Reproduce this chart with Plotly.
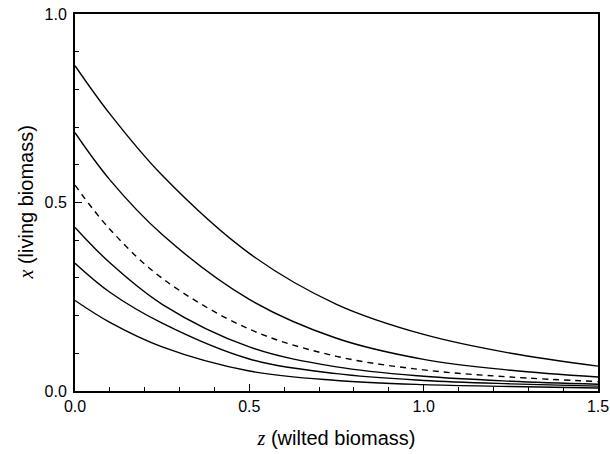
import plotly.graph_objects as go

z_vals = [0.0, 0.1, 0.25, 0.5, 0.75, 1.0, 1.25, 1.5]
curve1 = [0.863, 0.735, 0.572, 0.365, 0.230, 0.150, 0.100, 0.066]
curve2 = [0.685, 0.560, 0.415, 0.243, 0.140, 0.084, 0.055, 0.037]
curve_dashed = [0.546, 0.429, 0.299, 0.164, 0.092, 0.056, 0.037, 0.025]
curve4 = [0.434, 0.340, 0.230, 0.117, 0.064, 0.039, 0.026, 0.018]
curve5 = [0.339, 0.262, 0.180, 0.085, 0.046, 0.028, 0.019, 0.013]
curve6 = [0.240, 0.182, 0.117, 0.053, 0.028, 0.017, 0.012, 0.008]

x_ticks = [0.0, 0.5, 1.0, 1.5]
y_ticks = [0.0, 0.5, 1.0]

fig = go.Figure()
series = [
    (curve1, "solid"),
    (curve2, "solid"),
    (curve_dashed, "6px,5px"),
    (curve4, "solid"),
    (curve5, "solid"),
    (curve6, "solid"),
]
for ys, dash in series:
    fig.add_trace(go.Scatter(
        x=z_vals, y=ys, mode="lines",
        line=dict(color="black", width=1.4, dash=dash, shape="spline", smoothing=1.0),
        showlegend=False, hoverinfo="skip",
    ))

axis_common = dict(
    showgrid=False, zeroline=False, automargin=False,
    showline=True, linecolor="black", linewidth=2, mirror=True,
    ticks="inside", ticklen=7, tickwidth=1.3, tickcolor="black",
    tickformat=".1f", ticklabeloverflow="allow",
    tickfont=dict(family="Liberation Sans, Arial", size=16, color="black"),
    minor=dict(ticks="inside", ticklen=4, tickwidth=1.3, tickcolor="black", dtick=0.1),
)

fig.update_xaxes(
    range=[0, 1.5], tickvals=x_ticks,
    title=dict(
        text="<span style=\"font-family:'Liberation Serif';font-style:italic\">z</span> (wilted biomass)",
        font=dict(family="Liberation Sans, Arial", size=20, color="black"),
        standoff=17,
    ),
    **axis_common,
)
fig.update_yaxes(
    range=[0, 1.0], tickvals=y_ticks, ticklabelstandoff=3,
    **axis_common,
)

fig.add_annotation(
    text="<span style=\"font-family:'Liberation Serif';font-style:italic\">x</span> (living biomass)",
    xref="paper", yref="paper", x=0, y=0.5, xshift=-50,
    xanchor="center", yanchor="middle", textangle=-90, showarrow=False,
    font=dict(family="Liberation Sans, Arial", size=20, color="black"),
)

fig.update_layout(
    width=610, height=454,
    margin=dict(l=75, r=12, t=14, b=63),
    plot_bgcolor="white", paper_bgcolor="white",
)

fig.write_html("out.html", config={"displayModeBar": False},
               post_script="document.body.style.margin='0px';")
